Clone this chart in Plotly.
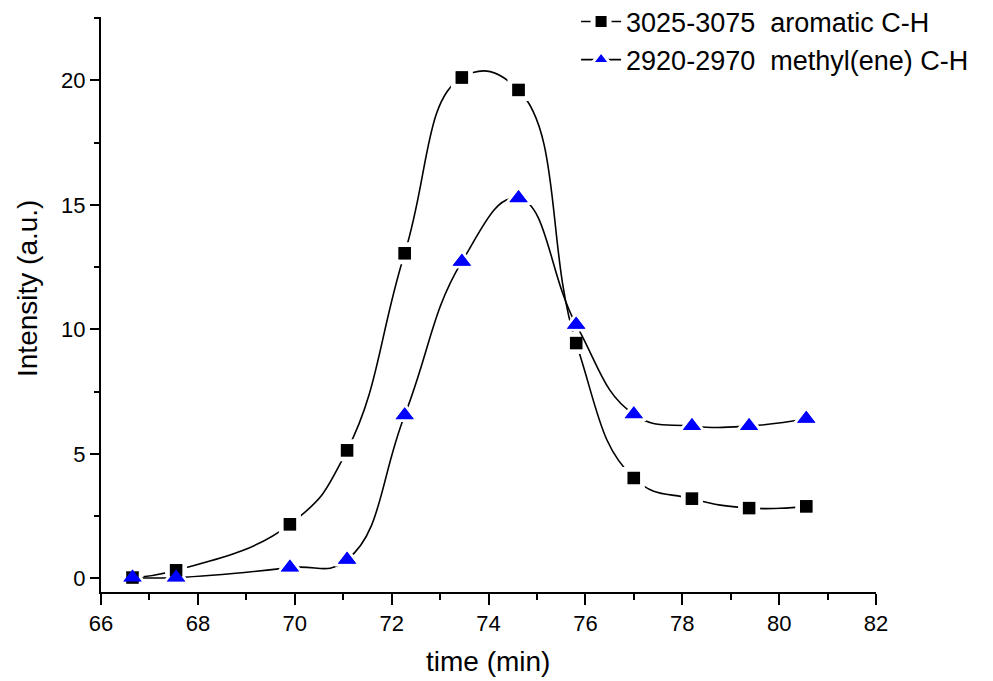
import plotly.graph_objects as go

time_min = [66.65, 67.55, 69.9, 71.08, 72.27, 73.45, 74.62, 75.81, 77.0, 78.2, 79.38, 80.56]
aromatic = [0.03, 0.32, 2.17, 5.14, 13.06, 20.12, 19.62, 9.45, 4.03, 3.2, 2.82, 2.89]
methyl = [0.03, 0.03, 0.43, 0.75, 6.55, 12.72, 15.27, 10.19, 6.59, 6.12, 6.12, 6.41]
names = ["3025-3075\u00a0\u00a0aromatic C-H", "2920-2970\u00a0\u00a0methyl(ene) C-H"]
x_title = "time (min)"
y_title = "Intensity (a.u.)"

font = "Liberation Sans, Arial, sans-serif"
smooth = 1.3

fig = go.Figure()
# line + marker with white halo (gives Origin-style gaps around symbols)
fig.add_trace(go.Scatter(
    x=time_min, y=aromatic, name=names[0], mode="lines+markers", legendgroup="a",
    line=dict(color="black", width=1.6, shape="spline", smoothing=smooth),
    marker=dict(symbol="square", size=17, color="black",
                line=dict(color="white", width=5)),
))
fig.add_trace(go.Scatter(
    x=time_min, y=methyl, name=names[1], mode="lines+markers", legendgroup="b",
    line=dict(color="black", width=1.6, shape="spline", smoothing=smooth),
    marker=dict(symbol="triangle-up", size=21, color="#0000FF",
                line=dict(color="white", width=3)),
))
# crisp symbols on top
fig.add_trace(go.Scatter(
    x=time_min, y=aromatic, mode="markers", showlegend=False, legendgroup="a",
    marker=dict(symbol="square", size=12.5, color="black", line=dict(width=0)),
))
fig.add_trace(go.Scatter(
    x=time_min, y=methyl, mode="markers", showlegend=False, legendgroup="b",
    marker=dict(symbol="triangle-up", size=16, color="#0000FF", line=dict(width=0)),
))

fig.update_layout(
    width=993, height=681,
    margin=dict(l=101, r=117, t=17, b=89, autoexpand=False),
    paper_bgcolor="white", plot_bgcolor="white",
    font=dict(family=font, size=22, color="black"),
    showlegend=True,
    legend=dict(x=0.613, y=1.034, xanchor="left", yanchor="top",
                font=dict(size=27, family=font), bgcolor="rgba(0,0,0,0)",
                tracegroupgap=0, itemwidth=40),
    xaxis=dict(
        range=[66, 82], tick0=66, dtick=2, showgrid=False, zeroline=False,
        showline=True, linecolor="black", linewidth=2,
        ticks="outside", ticklen=11, tickwidth=2, tickcolor="black",
        tickfont=dict(size=22),
        minor=dict(dtick=1, ticks="outside", ticklen=6, tickwidth=2, tickcolor="black"),
    ),
    yaxis=dict(
        range=[-0.55, 22.55], tick0=0, dtick=5, showgrid=False, zeroline=False,
        showline=True, linecolor="black", linewidth=2,
        ticks="outside", ticklen=9, tickwidth=2, tickcolor="black",
        tickfont=dict(size=22),
        minor=dict(tick0=0, dtick=2.5, ticks="outside", ticklen=5, tickwidth=2, tickcolor="black"),
    ),
    annotations=[
        dict(text=x_title, xref="paper", yref="paper", x=0.4995, y=-0.1217,
             xanchor="center", yanchor="middle", showarrow=False,
             font=dict(size=28, family=font)),
        dict(text=y_title, xref="paper", yref="paper", x=-0.0942, y=0.5287,
             xanchor="center", yanchor="middle", showarrow=False, textangle=-90,
             font=dict(size=28, family=font)),
    ],
)

fig.write_html("out.html")
